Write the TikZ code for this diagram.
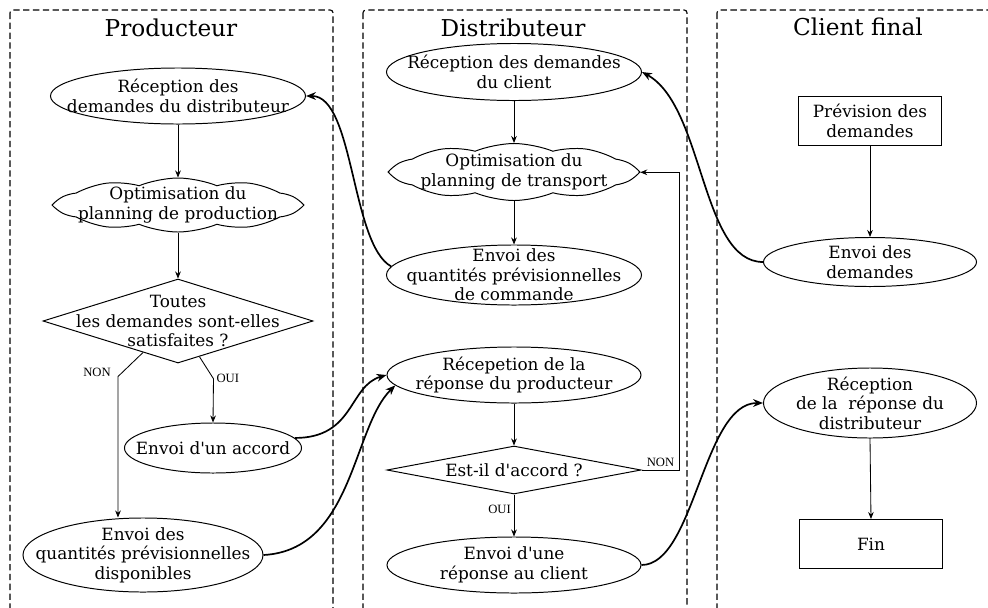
\documentclass[tikz,border=0pt]{standalone}
\usepackage{fontspec}
\setmainfont{DejaVu Serif}
\newfontfamily\lblfont{Liberation Serif}
\usetikzlibrary{shapes.geometric,shapes.symbols,arrows.meta}

\tikzset{
    etape/.style = {draw, line width=0.7pt, inner sep=0pt},
    ell/.style = {etape, ellipse},
    nuage/.style = {etape, cloud, cloud puffs=10, cloud puff arc=45, aspect=4.5},
    choix/.style = {etape, diamond, aspect=4},
    boite/.style = {etape, rectangle},
    txt/.style = {align=center, font=\fontsize{12}{13.8}\selectfont},
    titre/.style = {font=\fontsize{16.5}{19}\selectfont},
    rep/.style = {font=\lblfont\fontsize{9}{10}\selectfont, inner sep=2pt},
    fleche/.style = {line width=0.6pt, -{Stealth[length=5pt,width=4pt]}},
    lien/.style = {line width=1.2pt, -{Stealth[length=7pt,width=5.5pt]}},
    couloir/.style = {dash pattern=on 4.5pt off 2.5pt, line width=0.8pt, rounded corners=2pt}
}

\begin{document}
\begin{tikzpicture}[x=0.025cm, y=-0.025cm]

        \useasboundingbox (0,0) rectangle (988,607);
        \clip (0,0) rectangle (988,607);

        % les trois couloirs
        \draw[couloir] (10,10) rectangle (333,650);
        \draw[couloir] (363,10) rectangle (687,650);
        \draw[couloir] (717,10) rectangle (1050,650);
        \node[titre] (tProd) at (171,28) {Producteur};
        \node[titre] (tDist) at (513,28) {Distributeur};
        \node[titre] (tCli) at (858,27) {Client final};

        % Producteur
        \node[ell, minimum width=6.375cm, minimum height=1.4cm,
              label={[txt]center:Réception des\\demandes du distributeur}] (recP) at (178,96) {};
        \node[nuage, minimum width=6.05cm, minimum height=1.35cm,
              label={[txt]center:Optimisation du\\planning de production}] (optP) at (178,205) {};
        \node[choix, minimum width=6.75cm, minimum height=2.1cm,
              label={[txt]center:Toutes\\les demandes sont-elles\\satisfaites ?}] (testP) at (178,321) {};
        \node[ell, minimum width=4.425cm, minimum height=1.25cm,
              label={[txt]center:Envoi d\textquotesingle un accord}] (accP) at (213,448) {};
        \node[ell, minimum width=6cm, minimum height=1.85cm,
              label={[txt]center:Envoi des\\quantités prévisionnelles\\disponibles}] (qteP) at (143,555) {};

        \draw[fleche] (recP.south) -- (optP.north);
        \draw[fleche] (optP.south) -- (testP.north);
        \draw[fleche] (testP.222) -- ++(-25,24) coordinate (coinNon) -- (qteP.north -| coinNon);
        \draw[fleche] (testP.-59) -- ++(14,22) coordinate (coinOui) -- (accP.north);
        \node[rep, left=3pt, yshift=3pt] (nonP) at (coinNon) {NON};
        \node[rep, right] (ouiP) at (coinOui) {OUI};

        % Distributeur
        \node[ell, minimum width=6.375cm, minimum height=1.425cm,
              label={[txt]center:Réception des demandes\\du client}] (recD) at (514,72) {};
        \node[nuage, minimum width=6.05cm, minimum height=1.425cm,
              label={[txt]center:Optimisation du\\planning de transport}] (optD) at (514,172) {};
        \node[ell, minimum width=6.375cm, minimum height=1.5cm,
              label={[txt]center:Envoi des\\quantités prévisionnelles\\de commande}] (envD) at (514,275) {};
        \node[ell, minimum width=6.35cm, minimum height=1.4cm,
              label={[txt]center:Récepetion de la\\réponse du producteur}] (repD) at (514,375) {};
        \node[choix, minimum width=6.35cm, minimum height=1.2cm,
              label={[txt]center:Est-il d\textquotesingle accord ?}] (testD) at (514,470) {};
        \node[ell, minimum width=6.35cm, minimum height=1.4cm,
              label={[txt]center:Envoi d\textquotesingle une\\réponse au client}] (envCli) at (514,565) {};

        \draw[fleche] (recD.south) -- (optD.north);
        \draw[fleche] (optD.south) -- (envD.north);
        \draw[fleche] (repD.south) -- (testD.north);
        \draw[fleche] (testD.south) -- node[rep, pos=0.35, left] (ouiD) {OUI} (envCli.north);
        \draw[fleche] (testD.east) -- ++(38,0) node[rep, midway, above] (nonD) {NON} |- (optD.east);

        % Client final
        \node[boite, txt, minimum width=3.575cm, minimum height=1.225cm] (prevC) at (870,121) {Prévision des\\demandes};
        \node[ell, minimum width=5.325cm, minimum height=1.225cm,
              label={[txt]center:Envoi des\\demandes}] (envC) at (870,262) {};
        \node[ell, minimum width=5.325cm, minimum height=1.75cm,
              label={[txt]center:Réception\\de la\ \ réponse du\\distributeur}] (recC) at (870,403) {};
        \node[boite, txt, minimum width=3.55cm, minimum height=1.225cm] (finC) at (871,544) {Fin};

        \draw[fleche] (prevC.south) -- (envC.north);
        \draw[fleche] (recC.south) -- (finC.north);

        % echanges entre acteurs
        \draw[lien] (envD.176) .. controls +(-40,-22) and +(48,0) .. (recP.east);
        \draw[lien] (envC.west) .. controls +(-62,0) and +(62,34) .. (recD.east);
        \draw[lien] (accP.7) .. controls +(60,0) and +(-38,11) .. (repD.west);
        \draw[lien] (qteP.east) .. controls +(90,-5) and +(-43,42) .. (repD.185);
        \draw[lien] (envCli.east) .. controls +(53,0) and +(-60,0) .. (recC.west);

\end{tikzpicture}
\end{document}
